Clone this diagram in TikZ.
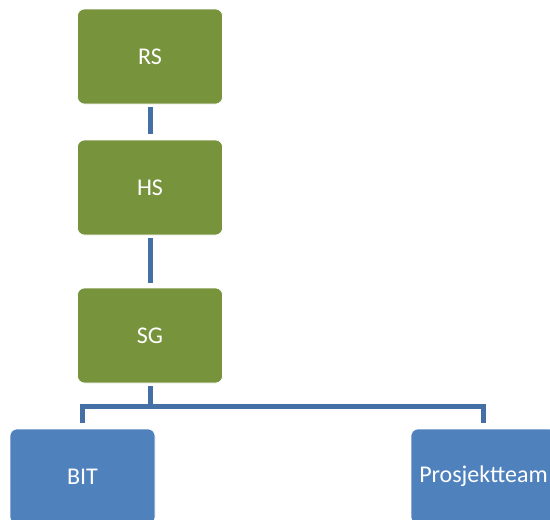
\documentclass[tikz,border=0pt]{standalone}
\usepackage{fontspec}
\setmainfont{Carlito}
\definecolor{boxgreen}{HTML}{77933C}
\definecolor{boxblue}{HTML}{4F81BD}
\definecolor{linkblue}{HTML}{4470A6}
\tikzset{
  gbox/.style={fill=boxgreen, draw=white, line width=0.6pt, rounded corners=7pt, minimum width=145pt, minimum height=95pt, text=white, font=\fontsize{24}{28}\selectfont, inner sep=0pt},
  bbox/.style={gbox, fill=boxblue},
  link/.style={draw=linkblue, line width=5pt}
}
\begin{document}
\begin{tikzpicture}[x=1pt,y=-1pt]
\useasboundingbox (0,0) rectangle (550,520);
\clip (0,0) rectangle (550,520);
\node[gbox] (rs) at (150,56.5) {RS};
\node[gbox] (hs) at (150,187.5) {HS};
\node[gbox] (sg) at (150,335.5) {SG};
\node[bbox] (bit) at (82.5,476.5) {BIT};
\node[bbox] (pt) at (483.5,476.5) {Prosjektteam};
\coordinate (j) at (150,406);
\draw[link] ([yshift=-3pt]rs.south) -- ([yshift=6pt]hs.north);
\draw[link] ([yshift=-3pt]hs.south) -- ([yshift=5pt]sg.north);
\draw[link] ([yshift=-3pt]sg.south) -- (j);
\draw[link] ([yshift=6pt]bit.north) |- (j) -| ([yshift=6pt]pt.north);
\end{tikzpicture}
\end{document}
